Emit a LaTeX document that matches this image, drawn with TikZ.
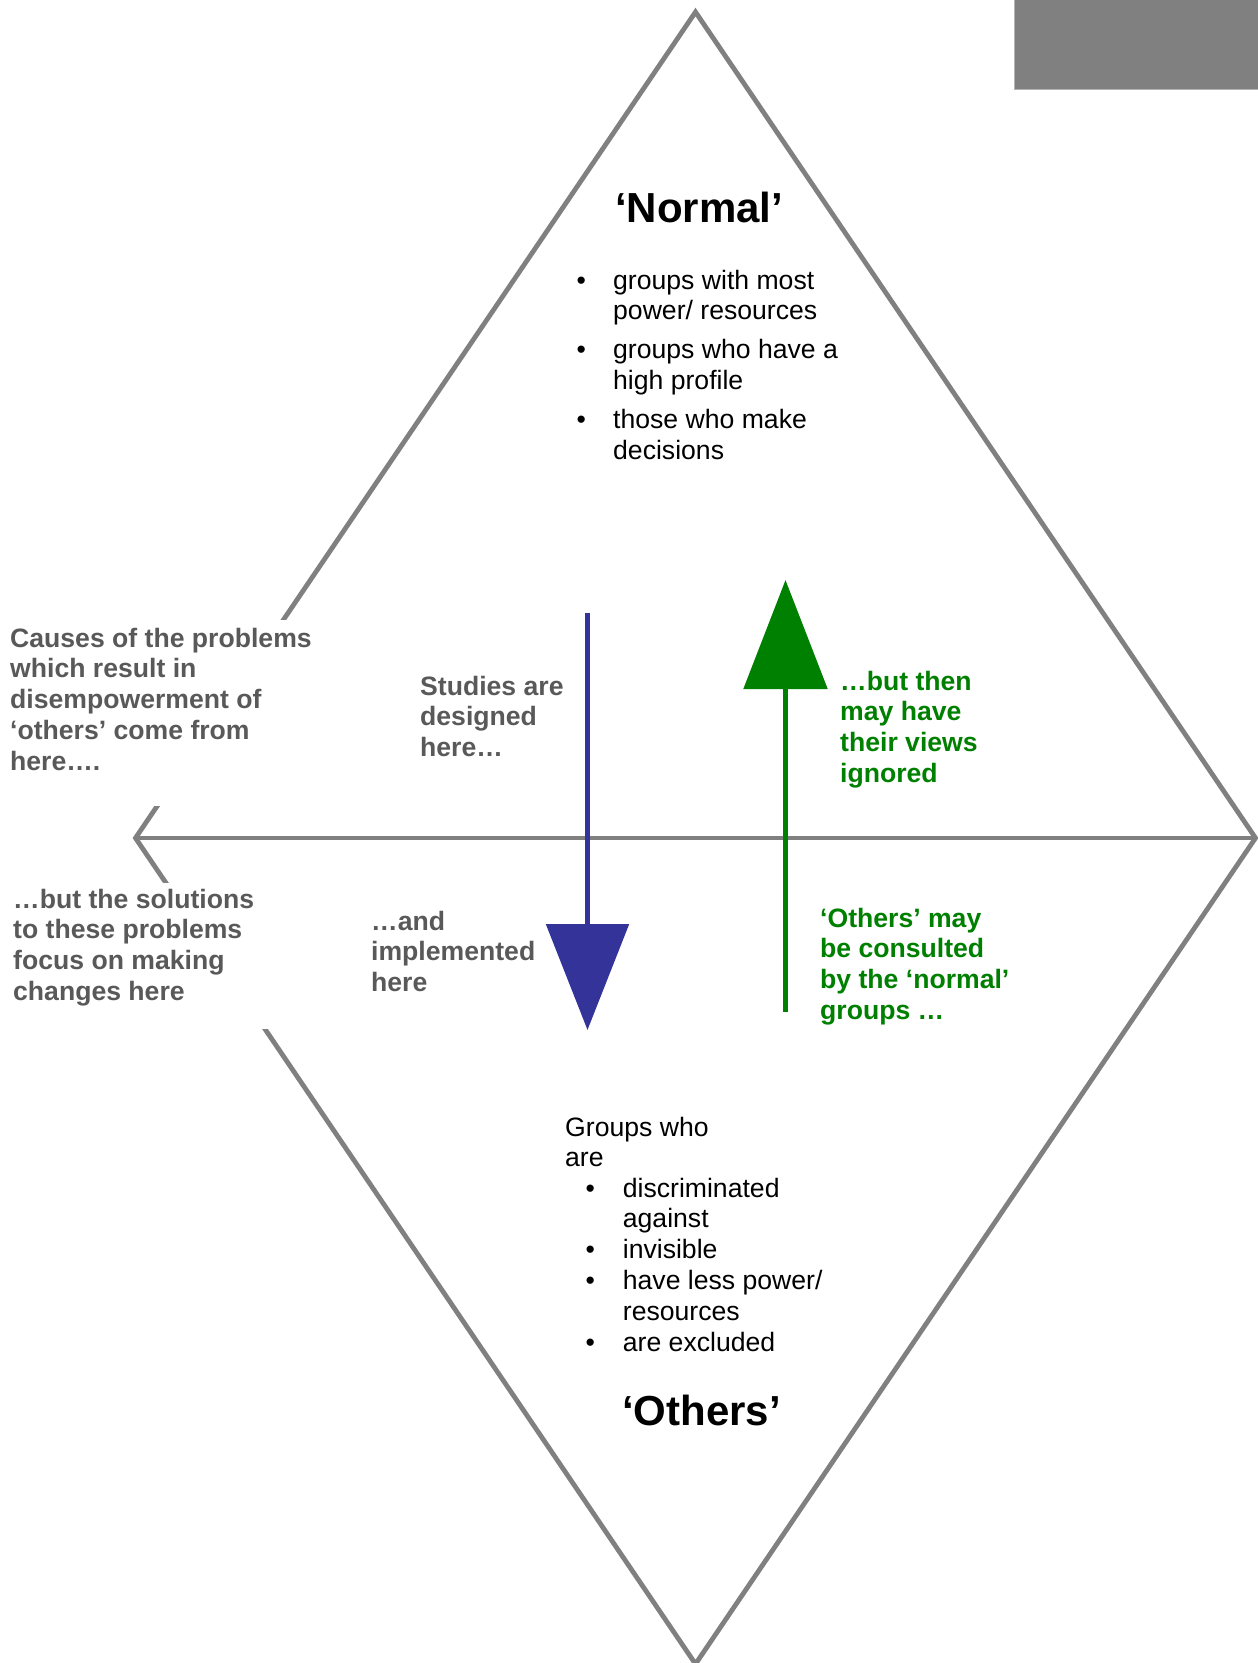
\documentclass[tikz,border=0pt]{standalone}
\usepackage{fontspec}
\setmainfont{Liberation Sans}
\usetikzlibrary{arrows.meta}
\definecolor{linegray}{HTML}{808080}
\definecolor{boxedge}{HTML}{B4B4B4}
\definecolor{txtgray}{HTML}{595959}
\definecolor{arrowblue}{HTML}{333399}
\definecolor{arrowgreen}{HTML}{008000}
\begin{document}
\begin{tikzpicture}[x=1pt,y=-1pt,
  txt/.style={anchor=base west, inner sep=0pt, font=\fontsize{26.6}{30.8}\selectfont},
  boldtxt/.style={txt, font=\bfseries\fontsize{26.6}{30.8}\selectfont},
  title/.style={anchor=base west, inner sep=0pt, font=\bfseries\fontsize{42}{48}\selectfont},
  diamondline/.style={draw=linegray, line width=4.8pt, line join=miter},
  bigarrow/.style={line width=5.5pt}]
\useasboundingbox (0,0) rectangle (1258,1663);
\fill[white] (0,0) rectangle (1258,1663);
% grey block top right
\fill[linegray, draw=boxedge, line width=1pt] (1014.5,-2) rectangle (1260,89);
% diamond
\coordinate (T) at (695.5,12);
\coordinate (L) at (135.5,838);
\coordinate (R) at (1255.5,838);
\coordinate (B) at (695.5,1664);
\draw[diamondline] (T) -- (R) -- (B) -- (L) -- cycle;
\draw[diamondline] (L) -- (R);
% white text boxes hiding parts of the left edges
\fill[white] (0,620) rectangle (318,806);
\fill[white] (0,882.5) rectangle (292,1029);
% arrows
\coordinate (bluestart) at (587.5,613);
\coordinate (blueend) at (587.5,1030);
\coordinate (greenstart) at (785.5,1012);
\coordinate (greenend) at (785.5,580);
\draw[bigarrow, arrowblue, -{Triangle[length=106pt,width=82pt]}] (bluestart) -- (blueend);
\draw[bigarrow, arrowgreen, -{Triangle[length=109pt,width=83pt]}] (greenstart) -- (greenend);
% titles
\node[title] (normal) at (615,222) {‘Normal’};
\node[title] (others) at (622,1425) {‘Others’};
% lists
\node[txt] (normallist) at (576.3,289) {\begin{tabular}[t]{@{}p{36.7pt}@{}l@{}}•&groups with most\\&power/ resources\\[8pt]•&groups who have a\\&high profile\\[8pt]•&those who make\\&decisions\end{tabular}};
\node[txt] (groupswho) at (565,1136) {\begin{tabular}[t]{@{}l@{}}Groups who\\are\end{tabular}};
\node[txt] (otherslist) at (585.3,1197) {\begin{tabular}[t]{@{}p{37.4pt}@{}l@{}}•&discriminated\\&against\\•&invisible\\•&have less power/\\&resources\\•&are excluded\end{tabular}};
% grey labels
\node[boldtxt, text=txtgray] (causes) at (10,647) {\begin{tabular}[t]{@{}l@{}}Causes of the problems\\which result in\\disempowerment of\\‘others’ come from\\here….\end{tabular}};
\node[boldtxt, text=txtgray] (solutions) at (13,908) {\begin{tabular}[t]{@{}l@{}}…but the solutions\\to these problems\\focus on making\\changes here\end{tabular}};
\node[boldtxt, text=txtgray] (studies) at (420,695) {\begin{tabular}[t]{@{}l@{}}Studies are\\designed\\here…\end{tabular}};
\node[boldtxt, text=txtgray] (implemented) at (371,930) {\begin{tabular}[t]{@{}l@{}}…and\\implemented\\here\end{tabular}};
% green labels
\node[boldtxt, text=arrowgreen] (ignored) at (840,690) {\begin{tabular}[t]{@{}l@{}}…but then\\may have\\their views\\ignored\end{tabular}};
\node[boldtxt, text=arrowgreen] (consulted) at (820,927) {\begin{tabular}[t]{@{}l@{}}‘Others’ may\\be consulted\\by the ‘normal’\\groups …\end{tabular}};
\end{tikzpicture}
\end{document}
